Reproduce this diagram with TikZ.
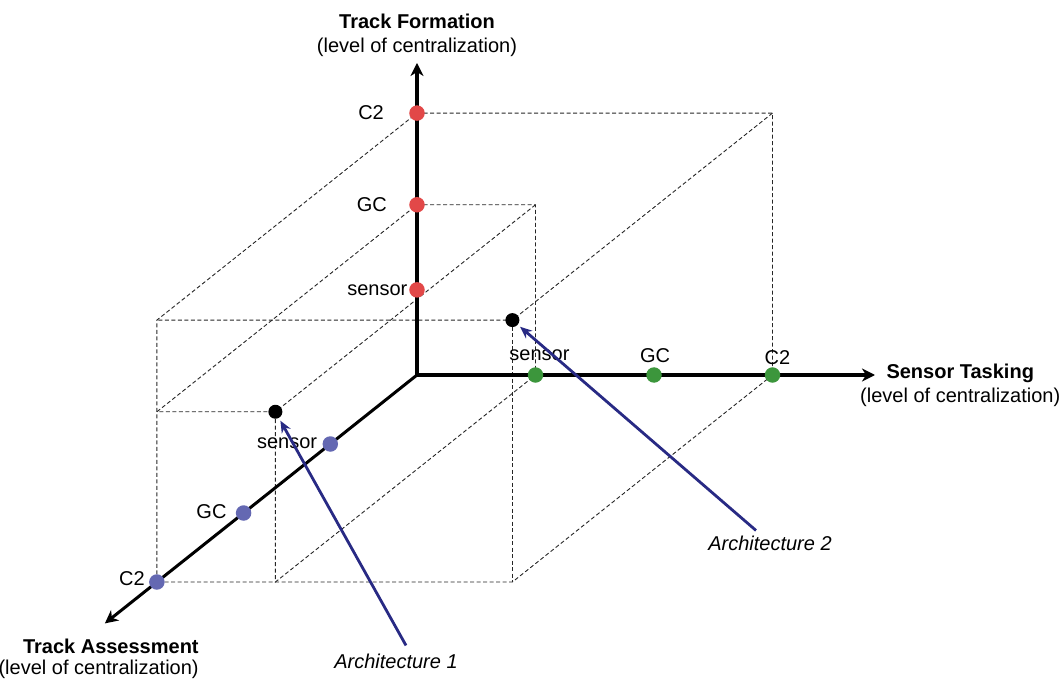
\documentclass[tikz,border=0pt]{standalone}
\usepackage{fontspec}
\setmainfont{Liberation Sans}
\usetikzlibrary{arrows.meta,positioning}

\definecolor{formred}{RGB}{226,72,72}
\definecolor{taskgreen}{RGB}{60,150,60}
\definecolor{assessblue}{RGB}{100,104,178}
\definecolor{archnavy}{RGB}{40,42,132}

\tikzset{
  axis/.style={line width=3bp, -{Stealth[length=13bp,width=13bp,inset=4bp]}},
  guide/.style={line width=0.9bp, black!85, dash pattern=on 4bp off 2.5bp},
  lvl/.style={circle, inner sep=0pt, minimum size=15.5bp},
  lbl/.style={inner sep=0pt},
  archdot/.style={circle, fill=black, inner sep=0pt, minimum size=14bp},
  archarrow/.style={line width=2.8bp, archnavy, -{Stealth[length=12bp,width=10bp]}, shorten >=3bp},
}

\begin{document}
\begin{tikzpicture}[x={(118.5bp,0bp)}, y={(0bp,87.3bp)}, z={(-86.7bp,-69bp)},
    font=\fontsize{20bp}{24bp}\selectfont]
  \useasboundingbox (-417bp,-304bp) rectangle (645bp,375bp);

  % outer box: C2 on every axis
  \draw[guide] (0,3,0) -- (3,3,0) -- (3,0,0) -- (3,0,3) -- (0,0,3) -- (0,3,3) -- cycle;
  \draw[guide] (3,3,0) -- (3,3,3) -- (0,3,3);
  \draw[guide] (3,3,3) -- (3,0,3);

  % inner box: sensor / GC / C2
  \draw[guide] (0,1.95,0) -- (1,1.95,0) -- (1,0,0) -- (1,0,3) -- (1,1.95,3) -- (0,1.95,3) -- cycle;
  \draw[guide] (1,1.95,0) -- (1,1.95,3);

  % axes
  \coordinate (O) at (0,0,0);
  \coordinate (fEnd) at (0,3.574,0);
  \coordinate (tEnd) at (3.865,0,0);
  \coordinate (aEnd) at (0,0,3.6);
  \draw[axis] (O) -- (fEnd);
  \draw[axis] (O) -- (tEnd);
  \draw[axis] (O) -- (aEnd);

  \node[lbl, align=center, above=6bp of fEnd] (fLab) {\textbf{Track Formation}\\(level of centralization)};
  \node[lbl, align=center, anchor=west] (tLab) at ([xshift=-15bp,yshift=-10bp]tEnd) {\textbf{Sensor Tasking}\\(level of centralization)};
  \node[lbl, align=right, anchor=north east] (aLab) at ([xshift=94bp,yshift=-15.5bp]aEnd) {\textbf{Track Assessment}\\[-3bp](level of centralization)};

  % levels on each axis
  \foreach \v/\t/\d [count=\n] in {0.975/sensor/1.5, 1.95/GC/22, 3/C2/25} {
    \node[lvl, fill=formred, label={[lbl, label distance=\d bp]left:\t}] (f\n) at (0,\v,0) {};
  }
  \foreach \t/\d/\s [count=\n] in {sensor/6/4, GC/4/1, C2/2/5} {
    \node[lvl, fill=taskgreen, label={[lbl, label distance=\d bp, xshift=\s bp]above:\t}] (t\n) at (\n,0,0) {};
  }
  \foreach \t/\d/\s [count=\n] in {sensor/5/1, GC/9/1, C2/4/3} {
    \node[lvl, fill=assessblue, label={[lbl, label distance=\d bp, yshift=\s bp]left:\t}] (a\n) at (0,0,\n) {};
  }

  % architectures
  \node[archdot] (arch1) at (1,1.95,3) {};
  \node[archdot] (arch2) at (3,3,3) {};
  \node[lbl] (lab1) at (-21bp,-286bp) {\itshape Architecture 1};
  \node[lbl] (lab2) at (353bp,-168bp) {\itshape Architecture 2};
  \draw[archarrow] ([xshift=10bp,yshift=8bp]lab1.north) -- (arch1);
  \draw[archarrow] ([xshift=-14bp,yshift=5bp]lab2.north) -- (arch2);
\end{tikzpicture}
\end{document}
